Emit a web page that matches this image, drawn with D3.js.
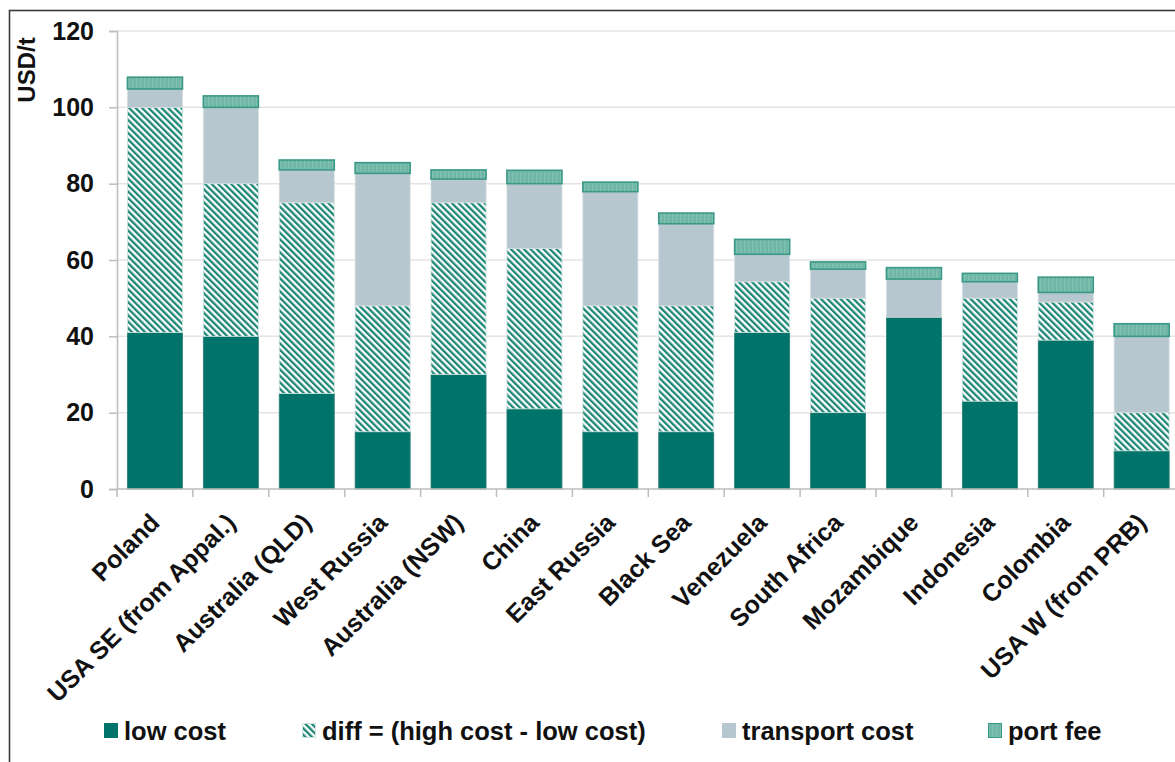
<!DOCTYPE html>
<html>
<head>
<meta charset="utf-8">
<script src="https://cdn.jsdelivr.net/npm/d3@7"></script>
<style>
  html, body { margin: 0; padding: 0; background: #fff; }
  svg { display: block; font-family: "Liberation Sans", Arial, sans-serif; }
</style>
</head>
<body>
<svg id="chart" width="1175" height="762"></svg>
<script>
const categories = ["Poland", "USA SE (from Appal.)", "Australia (QLD)", "West Russia", "Australia (NSW)", "China", "East Russia", "Black Sea", "Venezuela", "South Africa", "Mozambique", "Indonesia", "Colombia", "USA W (from PRB)"];
const lowCost   = [41, 40, 25, 15, 30, 21, 15, 15, 41, 20, 45, 23, 39, 10];
const diffCost  = [59, 40, 50, 33, 45, 42, 33, 33, 13.3, 30, 0, 27, 10, 10];
const transport = [4.8, 20, 8.6, 34.7, 6.2, 17, 29.9, 21.5, 7.2, 7.6, 10, 4.3, 2.5, 20];
const portFee   = [3.1, 3, 2.6, 2.8, 2.4, 3.5, 2.5, 2.8, 3.9, 1.9, 3, 2.2, 4, 3.3];
const seriesNames = ["low cost", "diff = (high cost - low cost)", "transport cost", "port fee"];
const yTicks = [0, 20, 40, 60, 80, 100, 120];

const svg = d3.select("#chart");
const defs = svg.append("defs");

// hatch pattern for diff
const hatch = defs.append("pattern")
  .attr("id", "hatch").attr("patternUnits", "userSpaceOnUse")
  .attr("width", 4.6).attr("height", 4.6)
  .attr("patternTransform", "rotate(-45)");
hatch.append("rect").attr("width", 4.6).attr("height", 4.6).attr("fill", "#ffffff");
hatch.append("rect").attr("width", 2.3).attr("height", 4.6).attr("fill", "#1d8676");

// port fee pattern
const port = defs.append("pattern")
  .attr("id", "portpat").attr("patternUnits", "userSpaceOnUse")
  .attr("width", 4).attr("height", 4);
port.append("rect").attr("width", 4).attr("height", 4).attr("fill", "#6fb6a6");
port.append("rect").attr("width", 1.5).attr("height", 4).attr("fill", "#7fc0b1");

// outer frame
svg.append("rect").attr("x", 9.5).attr("y", 10.5).attr("width", 1300).attr("height", 900)
  .attr("fill", "none").attr("stroke", "#3a3a3a").attr("stroke-width", 1.6);

const x0 = 117, step = 75.9;
const x = d3.scaleBand().domain(categories)
  .range([x0, x0 + step * categories.length])
  .paddingInner(0.275).paddingOuter(0.1375);
const y = d3.scaleLinear().domain([0, 120]).range([489, 31]);

// gridlines
svg.append("g").selectAll("line").data(yTicks.filter(d => d > 0)).join("line")
  .attr("x1", x0).attr("x2", 1180)
  .attr("y1", d => y(d)).attr("y2", d => y(d))
  .attr("stroke", "#e4e4e4").attr("stroke-width", 1.5);

// y axis
const yAxis = svg.append("g").attr("transform", `translate(${x0},0)`)
  .call(d3.axisLeft(y).tickValues(yTicks).tickSize(8).tickPadding(15));
yAxis.select(".domain").attr("stroke", "#bdbdbd").attr("stroke-width", 1.5);
yAxis.selectAll(".tick line").attr("stroke", "#bdbdbd").attr("stroke-width", 1.5);
yAxis.selectAll(".tick text").attr("font-size", 25).attr("font-weight", "bold")
  .attr("fill", "#111").attr("font-family", "Liberation Sans, Arial, sans-serif");

// stacked data
const table = categories.map((c, i) => ({cat: c, low: lowCost[i], diff: diffCost[i], transport: transport[i], port: portFee[i]}));
const keys = ["low", "diff", "transport", "port"];
const stack = d3.stack().keys(keys)(table);
const fills = {low: "#00736a", diff: "url(#hatch)", transport: "#b7c7cf", port: "url(#portpat)"};
const strokes = {low: "#2c7f76", diff: "#cfe3df", transport: "#d6dde0", port: "#3a9886"};
const sw = {low: 0.8, diff: 0.8, transport: 0.8, port: 1.6};

svg.append("g").selectAll("g").data(stack).join("g")
  .each(function(s) {
    d3.select(this).selectAll("rect").data(s.filter(d => d[1] - d[0] > 0)).join("rect")
      .attr("x", d => x(d.data.cat))
      .attr("width", x.bandwidth())
      .attr("y", d => y(d[1]))
      .attr("height", d => y(d[0]) - y(d[1]))
      .attr("fill", fills[s.key])
      .attr("stroke", strokes[s.key])
      .attr("stroke-width", sw[s.key]);
  });

// x axis line and ticks (between categories)
svg.append("line").attr("x1", x0).attr("x2", 1180).attr("y1", 489).attr("y2", 489)
  .attr("stroke", "#bdbdbd").attr("stroke-width", 1.5);
const tickPos = d3.range(categories.length + 1).map(i => x0 + i * x.step());
svg.append("g").selectAll("line").data(tickPos).join("line")
  .attr("x1", d => d).attr("x2", d => d).attr("y1", 489).attr("y2", 497)
  .attr("stroke", "#bdbdbd").attr("stroke-width", 1.5);

// x labels
svg.append("g").selectAll("text").data(categories).join("text")
  .attr("transform", d => `translate(${x(d) + x.bandwidth() / 2},518) rotate(-45)`)
  .attr("text-anchor", "end").attr("dy", "0.35em")
  .attr("font-size", 25).attr("font-weight", "bold").attr("fill", "#111")
  .text(d => d);

// y title
svg.append("text").attr("transform", "translate(35,70) rotate(-90)")
  .attr("text-anchor", "middle").attr("font-size", 24).attr("font-weight", "bold")
  .attr("fill", "#111").text("USD/t");

// legend
const legendX = [104, 302, 722, 988];
const legendFill = ["#00736a", "url(#hatch)", "#b7c7cf", "url(#portpat)"];
const legendStroke = ["#00736a", "#cfe3df", "#b7c7cf", "#3a9886"];
const lg = svg.append("g").selectAll("g").data(seriesNames).join("g")
  .attr("transform", (d, i) => `translate(${legendX[i]},0)`);
lg.append("rect").attr("x", 0.5).attr("y", 723.5).attr("width", 13).attr("height", 14)
  .attr("fill", (d, i) => legendFill[i]).attr("stroke", (d, i) => legendStroke[i]).attr("stroke-width", 1);
lg.append("text").attr("x", 20).attr("y", 740).attr("font-size", 25.5).attr("font-weight", "bold")
  .attr("fill", "#111").text(d => d);
</script>
</body>
</html>
